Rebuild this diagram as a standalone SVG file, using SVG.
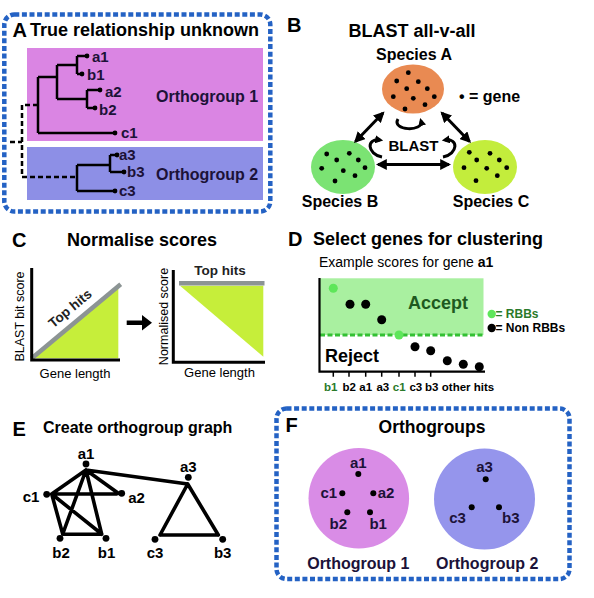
<svg xmlns="http://www.w3.org/2000/svg" width="594" height="598" viewBox="0 0 594 598">
<defs>
<style>
text{font-family:"Liberation Sans",Arial,sans-serif;}
.b{font-weight:bold;}
.pl{font-size:20px;font-weight:bold;fill:#000;}
.ti{font-size:18px;font-weight:bold;fill:#000;}
.lab{font-size:15px;font-weight:bold;fill:#1c1238;}
.og{font-size:16px;font-weight:bold;fill:#1c1238;}
.frame{fill:none;stroke:#2462c4;stroke-width:4.5;stroke-dasharray:5 2.6;}
.tree{fill:none;stroke:#000;stroke-width:2.5;}
.dtree{fill:none;stroke:#000;stroke-width:2.5;stroke-dasharray:5 3;}
.arr{fill:none;stroke:#000;stroke-width:3;}
.gdot{fill:#000;}
.edge{stroke:#000;stroke-width:3.6;stroke-linecap:round;fill:none;}
.ax{stroke:#000;stroke-width:3;fill:none;}
</style>
<marker id="ah" viewBox="0 0 10 10" refX="8" refY="5" markerUnits="userSpaceOnUse" markerWidth="11" markerHeight="11" orient="auto-start-reverse">
<path d="M0,0 L10,5 L0,10 z" fill="#000"/>
</marker>
<marker id="ah2" viewBox="0 0 10 10" refX="6" refY="5" markerUnits="userSpaceOnUse" markerWidth="8" markerHeight="8" orient="auto">
<path d="M0,0 L10,5 L0,10 z" fill="#000"/>
</marker>
</defs>

<!-- Panel A -->
<g id="panelA">
<rect class="frame" x="4.3" y="14.5" width="266" height="197" rx="10"/>
<text class="pl" x="12.5" y="36.5">A</text>
<text class="ti" x="30" y="36">True relationship unknown</text>
<rect x="27" y="48" width="236" height="93" fill="#da85e3"/>
<rect x="27" y="147" width="236" height="53" fill="#8d8fe6"/>
<g id="treeA">
<path class="tree" d="M77,56 H87 M77,74 H82 M77,56 V74 M87,90 H100 M87,108 H95 M87,90 V108 M57,65 H77 M57,99 H87 M57,65 V99 M38,77 H57 M38,133 H115 M38,77 V133"/>
<path class="tree" d="M77,165 V191 M77,165 H110 M77,191 H115 M110,155 V172 M110,155 H117 M110,172 H124"/>
<path class="dtree" d="M38,105 H22 V177 H77 M10,142 H22"/>
<g class="gdot"><circle cx="87" cy="56" r="2.4"/><circle cx="82" cy="74" r="2.4"/><circle cx="100" cy="90" r="2.4"/><circle cx="95" cy="108" r="2.4"/><circle cx="115" cy="133" r="2.4"/><circle cx="117" cy="155" r="2.4"/><circle cx="124" cy="172" r="2.4"/><circle cx="115" cy="191" r="2.4"/></g>
<text class="lab" x="92" y="62">a1</text>
<text class="lab" x="87" y="79.5">b1</text>
<text class="lab" x="105" y="96.5">a2</text>
<text class="lab" x="99" y="115">b2</text>
<text class="lab" x="121" y="138">c1</text>
<text class="lab" x="119" y="160">a3</text>
<text class="lab" x="127" y="177">b3</text>
<text class="lab" x="119" y="195.5">c3</text>
</g>
<text class="og" x="156" y="102">Orthogroup 1</text>
<text class="og" x="156" y="180">Orthogroup 2</text>
</g>

<!-- Panel B -->
<g id="panelB">
<text class="pl" x="287" y="32">B</text>
<text class="ti" x="412" y="37" text-anchor="middle">BLAST all-v-all</text>
<g id="speciesA">
<text class="b" x="414" y="60" text-anchor="middle" font-size="16">Species A</text>
<ellipse cx="413" cy="89" rx="31" ry="24.5" fill="#e98a52"/>
<g class="gdot"><circle cx="408.3" cy="72.7" r="2.4"/><circle cx="396.7" cy="81" r="2.4"/><circle cx="418.3" cy="81.7" r="2.4"/><circle cx="406.7" cy="88.7" r="2.4"/><circle cx="427.3" cy="88.7" r="2.4"/><circle cx="393.3" cy="96.7" r="2.4"/><circle cx="413.3" cy="98.3" r="2.4"/><circle cx="434.3" cy="96.7" r="2.4"/><circle cx="405" cy="109" r="2.4"/><circle cx="425" cy="104.7" r="2.4"/></g>
</g>
<g id="speciesB">
<ellipse cx="343" cy="167" rx="32" ry="27" fill="#7be373"/>
<g class="gdot"><circle cx="326.7" cy="154" r="2.4"/><circle cx="349.3" cy="153.3" r="2.4"/><circle cx="336.7" cy="160" r="2.4"/><circle cx="358.3" cy="160" r="2.4"/><circle cx="321.7" cy="168.3" r="2.4"/><circle cx="343.3" cy="170.7" r="2.4"/><circle cx="365" cy="167.7" r="2.4"/><circle cx="355" cy="175.7" r="2.4"/><circle cx="335" cy="181" r="2.4"/></g>
<text class="b" x="340" y="207" text-anchor="middle" font-size="16">Species B</text>
</g>
<g id="speciesC">
<ellipse cx="485" cy="167" rx="32" ry="27" fill="#c3ed3c"/>
<g class="gdot"><circle cx="469.3" cy="152.3" r="2.4"/><circle cx="490" cy="153.3" r="2.4"/><circle cx="476.7" cy="160" r="2.4"/><circle cx="499.3" cy="160" r="2.4"/><circle cx="464" cy="167.7" r="2.4"/><circle cx="486.7" cy="168.3" r="2.4"/><circle cx="506.7" cy="167.7" r="2.4"/><circle cx="497.3" cy="175.7" r="2.4"/><circle cx="476" cy="180.7" r="2.4"/></g>
<text class="b" x="491" y="207" text-anchor="middle" font-size="16">Species C</text>
</g>
<g id="legendB">
<text class="b" x="459" y="102" font-size="16">• = gene</text>
</g>
<text class="b" x="413.5" y="150.5" text-anchor="middle" font-size="15">BLAST</text>
<g id="connectorsB">
<line class="arr" x1="383" y1="113" x2="355.5" y2="141.5" marker-start="url(#ah)" marker-end="url(#ah)"/>
<line class="arr" x1="442" y1="113" x2="469.5" y2="141.5" marker-start="url(#ah)" marker-end="url(#ah)"/>
<line class="arr" x1="378" y1="164.5" x2="449" y2="164.5" marker-start="url(#ah)" marker-end="url(#ah)"/>
<path class="arr" d="M398,119 C391,131 424,132 421,121" marker-end="url(#ah2)"/>
<path class="arr" d="M382,157 C367,154 366,138 380,140" marker-end="url(#ah2)"/>
<path class="arr" d="M443,157 C458,154 459,138 445,140" marker-end="url(#ah2)"/>
</g>
</g>

<!-- Panel C -->
<g id="panelC">
<text class="pl" x="12" y="247">C</text>
<text class="ti" x="142" y="245.5" text-anchor="middle">Normalise scores</text>
<g id="chartC1">
<polygon points="33.3,358.3 118.3,288.3 118.3,358.3" fill="#c6ee3a"/>
<line x1="31.5" y1="358.5" x2="120.7" y2="284.3" stroke="#8c9494" stroke-width="4.5"/>
<path class="ax" d="M31.7,268 V360 H120"/>
<text class="b" font-size="13.5" fill="#222" transform="translate(73,312) rotate(-39.7)" text-anchor="middle">Top hits</text>
<text font-size="12.5" fill="#000" transform="translate(24,316.5) rotate(-90)" text-anchor="middle">BLAST bit score</text>
<text font-size="13" fill="#000" x="75" y="378" text-anchor="middle">Gene length</text>
</g>
<polygon id="arrowC" points="126.7,320.5 142,320.5 142,315 152,322.7 142,330.5 142,325 126.7,325" fill="#000"/>
<g id="chartC2">
<polygon points="180,285.7 263.3,285.7 263.3,356.7" fill="#c6ee3a"/>
<line x1="179" y1="283.3" x2="264.5" y2="283.3" stroke="#8c9494" stroke-width="4.5"/>
<path class="ax" d="M173.3,270 V362.3 H265"/>
<text class="b" font-size="13.5" fill="#222" x="220" y="275" text-anchor="middle">Top hits</text>
<text font-size="12.5" fill="#000" transform="translate(168,316.5) rotate(-90)" text-anchor="middle">Normalised score</text>
<text font-size="13" fill="#000" x="219.5" y="377" text-anchor="middle">Gene length</text>
</g>
</g>

<!-- Panel D -->
<g id="panelD">
<text class="pl" x="288" y="246">D</text>
<text class="ti" x="313" y="245">Select genes for clustering</text>
<text font-size="14" fill="#000" x="319" y="266.5">Example scores for gene <tspan font-weight="bold">a1</tspan></text>
<rect x="320" y="278.3" width="163.5" height="56.7" fill="#a9f0a0"/>
<line x1="320" y1="335" x2="483.5" y2="335" stroke="#33c033" stroke-width="3" stroke-dasharray="5 2.5"/>
<path d="M319.5,278 V371.7 H485" stroke="#000" stroke-width="2.2" fill="none"/>
<path d="M333.3,371.7 v5 M349,371.7 v5 M365.7,371.7 v5 M381.7,371.7 v5 M399,371.7 v5 M415,371.7 v5 M430.7,371.7 v5" stroke="#000" stroke-width="1.5"/>
<text class="b" font-size="18" fill="#1f5a1f" x="408" y="309">Accept</text>
<text class="b" font-size="18" fill="#000" x="325" y="362.3">Reject</text>
<g id="pointsD">
<circle cx="333.3" cy="288.3" r="4.5" fill="#5ee65a"/>
<circle cx="350" cy="304.3" r="4.5" fill="#000"/>
<circle cx="365.7" cy="304.3" r="4.5" fill="#000"/>
<circle cx="381.7" cy="319.7" r="4.5" fill="#000"/>
<circle cx="399" cy="335" r="4.5" fill="#5ee65a"/>
<circle cx="415" cy="346.7" r="4.5" fill="#000"/>
<circle cx="430.7" cy="350.7" r="4.5" fill="#000"/>
<circle cx="447.3" cy="360.7" r="4.5" fill="#000"/>
<circle cx="463.3" cy="364.3" r="4.5" fill="#000"/>
<circle cx="479.3" cy="366.7" r="4.5" fill="#000"/>
</g>
<g id="xlabelsD" font-size="11.5" font-weight="bold">
<text x="330.8" y="391" text-anchor="middle" fill="#2a7a2a">b1</text>
<text x="349.2" y="391" text-anchor="middle">b2</text>
<text x="365.7" y="391" text-anchor="middle">a1</text>
<text x="382.8" y="391" text-anchor="middle">a3</text>
<text x="399.2" y="391" text-anchor="middle" fill="#2a7a2a">c1</text>
<text x="415.8" y="391" text-anchor="middle">c3</text>
<text x="431.7" y="391" text-anchor="middle">b3</text>
<text x="468" y="391" text-anchor="middle">other hits</text>
</g>
<g id="legendD">
<circle cx="491.7" cy="314" r="4.2" fill="#5ee65a"/>
<text class="b" font-size="12" fill="#2a7a2a" x="495.5" y="317.5">= RBBs</text>
<circle cx="491.7" cy="328" r="4.2" fill="#000"/>
<text class="b" font-size="12" fill="#000" x="495.5" y="332">= Non RBBs</text>
</g>
</g>

<!-- Panel E -->
<g id="panelE">
<text class="pl" x="12.5" y="436">E</text>
<text class="b" font-size="16" x="43" y="433.3">Create orthogroup graph</text>
<g id="connectorsE">
<path class="edge" d="M86,470 L51.7,494 M86,470 L118.3,493.3 M86,470 L62.7,534 M86,470 L101.7,534.3 M86,470 L187.7,484 M51.7,494 H116.7 M51.7,494 L62.7,534 M51.7,494 L101.7,534 M62.7,534.3 H101.7 M187.7,484 L160,535 M187.7,484 L218.3,535 M160,535 H218.3"/>
</g>
<g id="nodesE" class="gdot">
<circle id="E-a1" cx="86" cy="464" r="3.4"/>
<circle id="E-c1" cx="46.7" cy="494.3" r="3.4"/>
<circle id="E-a2" cx="121.7" cy="493.3" r="3.4"/>
<circle id="E-b2" cx="60" cy="538.3" r="3.4"/>
<circle id="E-b1" cx="106" cy="538.3" r="3.4"/>
<circle id="E-a3" cx="188.3" cy="477.3" r="3.4"/>
<circle id="E-c3" cx="155" cy="539.3" r="3.4"/>
<circle id="E-b3" cx="222.7" cy="539.3" r="3.4"/>
</g>
<g font-size="15" font-weight="bold">
<text x="86" y="459.3" text-anchor="middle">a1</text>
<text x="31" y="501.5" text-anchor="middle">c1</text>
<text x="136.5" y="503.3" text-anchor="middle">a2</text>
<text x="61" y="558.3" text-anchor="middle">b2</text>
<text x="106.5" y="558.3" text-anchor="middle">b1</text>
<text x="188.3" y="472.3" text-anchor="middle">a3</text>
<text x="155" y="558.3" text-anchor="middle">c3</text>
<text x="222.7" y="558.3" text-anchor="middle">b3</text>
</g>
</g>

<!-- Panel F -->
<g id="panelF">
<rect class="frame" x="276.5" y="408.5" width="293" height="170.5" rx="10"/>
<text class="pl" x="285.5" y="432">F</text>
<text class="b" font-size="17.5" x="432" y="433.3" text-anchor="middle">Orthogroups</text>
<g id="og1">
<circle cx="358.8" cy="498.3" r="50.3" fill="#d98ce6"/>
<g class="gdot"><circle cx="358.3" cy="474" r="3"/><circle cx="342.3" cy="493.3" r="3"/><circle cx="373.3" cy="493.3" r="3"/><circle cx="347.3" cy="512.3" r="3"/><circle cx="370" cy="512.3" r="3"/></g>
<text class="lab" x="358.3" y="468.3" text-anchor="middle">a1</text>
<text class="lab" x="328.8" y="498.3" text-anchor="middle">c1</text>
<text class="lab" x="386" y="498.3" text-anchor="middle">a2</text>
<text class="lab" x="338.3" y="529" text-anchor="middle">b2</text>
<text class="lab" x="378.2" y="529" text-anchor="middle">b1</text>
<text class="og" x="358.3" y="569.3" text-anchor="middle" fill="#000">Orthogroup 1</text>
</g>
<g id="og2">
<circle cx="484.5" cy="499" r="50.5" fill="#9595ec"/>
<g class="gdot"><circle cx="485.7" cy="479.3" r="3"/><circle cx="471.7" cy="507.3" r="3"/><circle cx="499" cy="507.3" r="3"/></g>
<text class="lab" x="484.5" y="472.3" text-anchor="middle">a3</text>
<text class="lab" x="457.5" y="522.7" text-anchor="middle">c3</text>
<text class="lab" x="510.8" y="522.7" text-anchor="middle">b3</text>
<text class="og" x="487.2" y="569.3" text-anchor="middle" fill="#000">Orthogroup 2</text>
</g>
</g>
</svg>
